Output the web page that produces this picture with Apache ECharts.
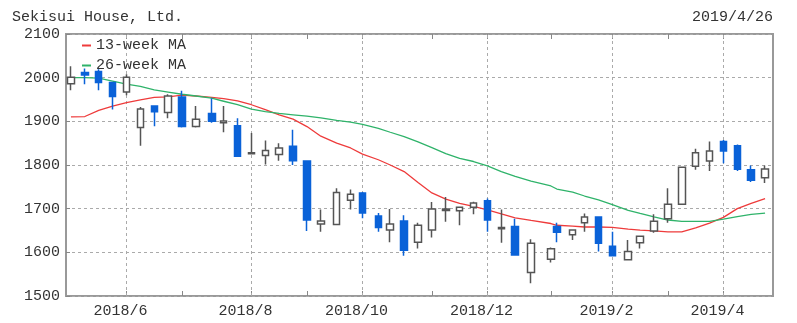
<!DOCTYPE html>
<html>
<head>
<meta charset="utf-8">
<script src="https://cdn.jsdelivr.net/npm/echarts@6/dist/echarts.min.js"></script>
<style>html,body{margin:0;padding:0;background:#fff}#c{width:797px;height:323px}</style>
</head>
<body>
<div id="c"></div>
<script>
// Weekly candles (first trading day of each week)
const dates = ['2018-05-07','2018-05-14','2018-05-21','2018-05-28','2018-06-04','2018-06-11','2018-06-18','2018-06-25',
  '2018-07-02','2018-07-09','2018-07-17','2018-07-23','2018-07-30','2018-08-06','2018-08-13','2018-08-20','2018-08-27',
  '2018-09-03','2018-09-10','2018-09-18','2018-09-25','2018-10-01','2018-10-09','2018-10-15','2018-10-22','2018-10-29',
  '2018-11-05','2018-11-12','2018-11-19','2018-11-26','2018-12-03','2018-12-10','2018-12-17','2018-12-25','2019-01-04',
  '2019-01-07','2019-01-15','2019-01-21','2019-01-28','2019-02-04','2019-02-12','2019-02-18','2019-02-25','2019-03-04',
  '2019-03-11','2019-03-18','2019-03-25','2019-04-01','2019-04-08','2019-04-15','2019-04-22'];
const opens  = [1986,2012,2014,1989,1967,1886,1935,1920,1956,1888,1918,1897,1890,1826,1822,1824,1843,1809,1665,1664,1719,1736,1683,1651,1672,1623,1651,1696,1695,1703,1718,1654,1659,1554,1584,1659,1640,1668,1681,1614,1583,1622,1649,1677,1710,1797,1809,1854,1844,1789,1771];
const closes = [2001,2006,1989,1957,2001,1928,1922,1958,1888,1905,1900,1901,1820,1828,1833,1839,1810,1674,1672,1737,1733,1690,1657,1665,1605,1662,1699,1699,1703,1713,1674,1657,1594,1621,1608,1646,1651,1681,1621,1592,1602,1637,1671,1710,1795,1828,1832,1832,1790,1765,1791];
const lows   = [1971,1985,1971,1927,1960,1844,1889,1907,1886,1886,1897,1875,1819,1824,1801,1810,1800,1649,1647,1664,1698,1678,1647,1623,1592,1609,1634,1670,1662,1687,1647,1622,1592,1529,1577,1623,1628,1647,1602,1591,1582,1609,1645,1668,1709,1789,1786,1804,1786,1761,1759];
const highs  = [2026,2021,2019,1990,2008,1933,1935,1962,1970,1935,1953,1935,1907,1873,1856,1850,1881,1810,1698,1747,1744,1738,1690,1699,1685,1668,1715,1727,1703,1716,1723,1698,1677,1630,1611,1668,1652,1689,1682,1647,1628,1638,1687,1747,1796,1837,1854,1857,1847,1799,1799];
const ma13 = [1910,1911,1925,1935,1943,1949,1955,1956,1960,1958,1955,1952,1947,1938,1927,1915,1905,1888,1866,1850,1839,1825,1812,1800,1785,1760,1736,1722,1712,1705,1697,1688,1679,1673,1666,1662,1660,1658,1658,1657,1653,1651,1649,1647,1647,1656,1667,1680,1700,1712,1723];
const ma26 = [2000,2000,1999,1992,1985,1980,1972,1967,1962,1958,1953,1946,1938,1928,1922,1918,1915,1912,1908,1902,1898,1893,1884,1875,1865,1853,1840,1826,1815,1808,1798,1785,1774,1763,1752,1745,1738,1729,1720,1709,1696,1689,1681,1674,1671,1671,1671,1676,1682,1687,1690];
const monthTickDates = ['2018-06-04','2018-07-02','2018-08-06','2018-09-03','2018-10-01','2018-11-05','2018-12-03','2019-01-04','2019-02-04','2019-03-04','2019-04-01'];
const monthLabels = ['2018/6','','2018/8','','2018/10','','2018/12','','2019/2','','2019/4'];
const yTicks = [1500,1600,1700,1800,1900,2000,2100];
const titleText = 'Sekisui House, Ltd.';
const dateText = '2019/4/26';

const FONT = '"Liberation Mono", "DejaVu Sans Mono", monospace';
const Y_MIN = yTicks[0], Y_MAX = yTicks[yTicks.length - 1];
const candleData = dates.map((d, i) => [d, opens[i], closes[i], lows[i], highs[i]]);

const chart = echarts.init(document.getElementById('c'));
chart.setOption({
  animation: false,
  backgroundColor: '#fff',
  title: [
    {text: titleText, left: 12, top: 10, padding: 0, textStyle: {fontFamily: FONT, fontSize: 15, fontWeight: 'normal', color: '#333'}},
    {text: dateText, right: 24, top: 10, padding: 0, textStyle: {fontFamily: FONT, fontSize: 15, fontWeight: 'normal', color: '#333'}}
  ],
  legend: {
    orient: 'vertical', left: 82, top: 38, padding: 0, itemGap: 5,
    icon: 'rect', itemWidth: 9, itemHeight: 2,
    textStyle: {fontFamily: FONT, fontSize: 15, color: '#333'},
    data: ['13-week MA', '26-week MA']
  },
  grid: {left: 66, right: 24, top: 34, bottom: 27, show: true, borderColor: '#999', borderWidth: 2, backgroundColor: 'transparent'},
  xAxis: {
    type: 'time', min: '2018-05-04 12:00', max: '2019-04-26 00:00',
    axisLine: {show: false}, axisTick: {show: false}, axisLabel: {show: false}, splitLine: {show: false}
  },
  yAxis: {
    type: 'value', min: Y_MIN, max: Y_MAX, interval: 100,
    axisLine: {show: false},
    axisTick: {show: true, inside: true, length: 4, lineStyle: {color: '#888'}},
    axisLabel: {fontFamily: FONT, fontSize: 15, color: '#333', margin: 6, formatter: v => String(v)},
    splitLine: {show: true, lineStyle: {color: '#aaa', type: [3, 3], width: 1}}
  },
  series: [
    {
      type: 'custom', z: 1, clip: false, silent: true,
      data: monthTickDates.map(d => [d, Y_MIN]),
      encode: {x: 0, y: 1},
      renderItem: function (params, api) {
        const pb = api.coord([api.value(0), Y_MIN]);
        const pt = api.coord([api.value(0), Y_MAX]);
        const x = Math.round(pb[0]) + 0.5;
        const ch = [
          {type: 'line', shape: {x1: x, y1: pb[1], x2: x, y2: pb[1] - 5}, style: {stroke: '#888', lineWidth: 1}},
          {type: 'line', shape: {x1: x, y1: pt[1], x2: x, y2: pt[1] + 5}, style: {stroke: '#888', lineWidth: 1}}
        ];
        const lab = monthLabels[params.dataIndex];
        if (lab) {
          ch.push({type: 'line', shape: {x1: x, y1: pb[1], x2: x, y2: pt[1]}, style: {stroke: '#aaa', lineWidth: 1, lineDash: [3, 3]}});
          ch.push({type: 'text', style: {text: lab, x: x - 6, y: pb[1] + 15, align: 'center', verticalAlign: 'middle', fontFamily: FONT, fontSize: 15, fill: '#333'}});
        }
        return {type: 'group', children: ch};
      }
    },
    {
      name: 'candles', type: 'candlestick', z: 3,
      data: candleData, encode: {x: 0, y: [1, 2, 3, 4]},
      barWidth: 7,
      itemStyle: {color: '#ffffff', color0: '#0a62d8', borderColor: '#555555', borderColor0: '#0a62d8', borderWidth: 1.5}
    },
    {
      name: '13-week MA', type: 'line', z: 2, symbol: 'none', color: '#ee3b3b',
      data: dates.map((d, i) => [d, ma13[i]]), lineStyle: {width: 1.3, color: '#ee3b3b'}
    },
    {
      name: '26-week MA', type: 'line', z: 2, symbol: 'none', color: '#2fb36a',
      data: dates.map((d, i) => [d, ma26[i]]), lineStyle: {width: 1.3, color: '#2fb36a'}
    }
  ]
});
</script>
</body>
</html>
